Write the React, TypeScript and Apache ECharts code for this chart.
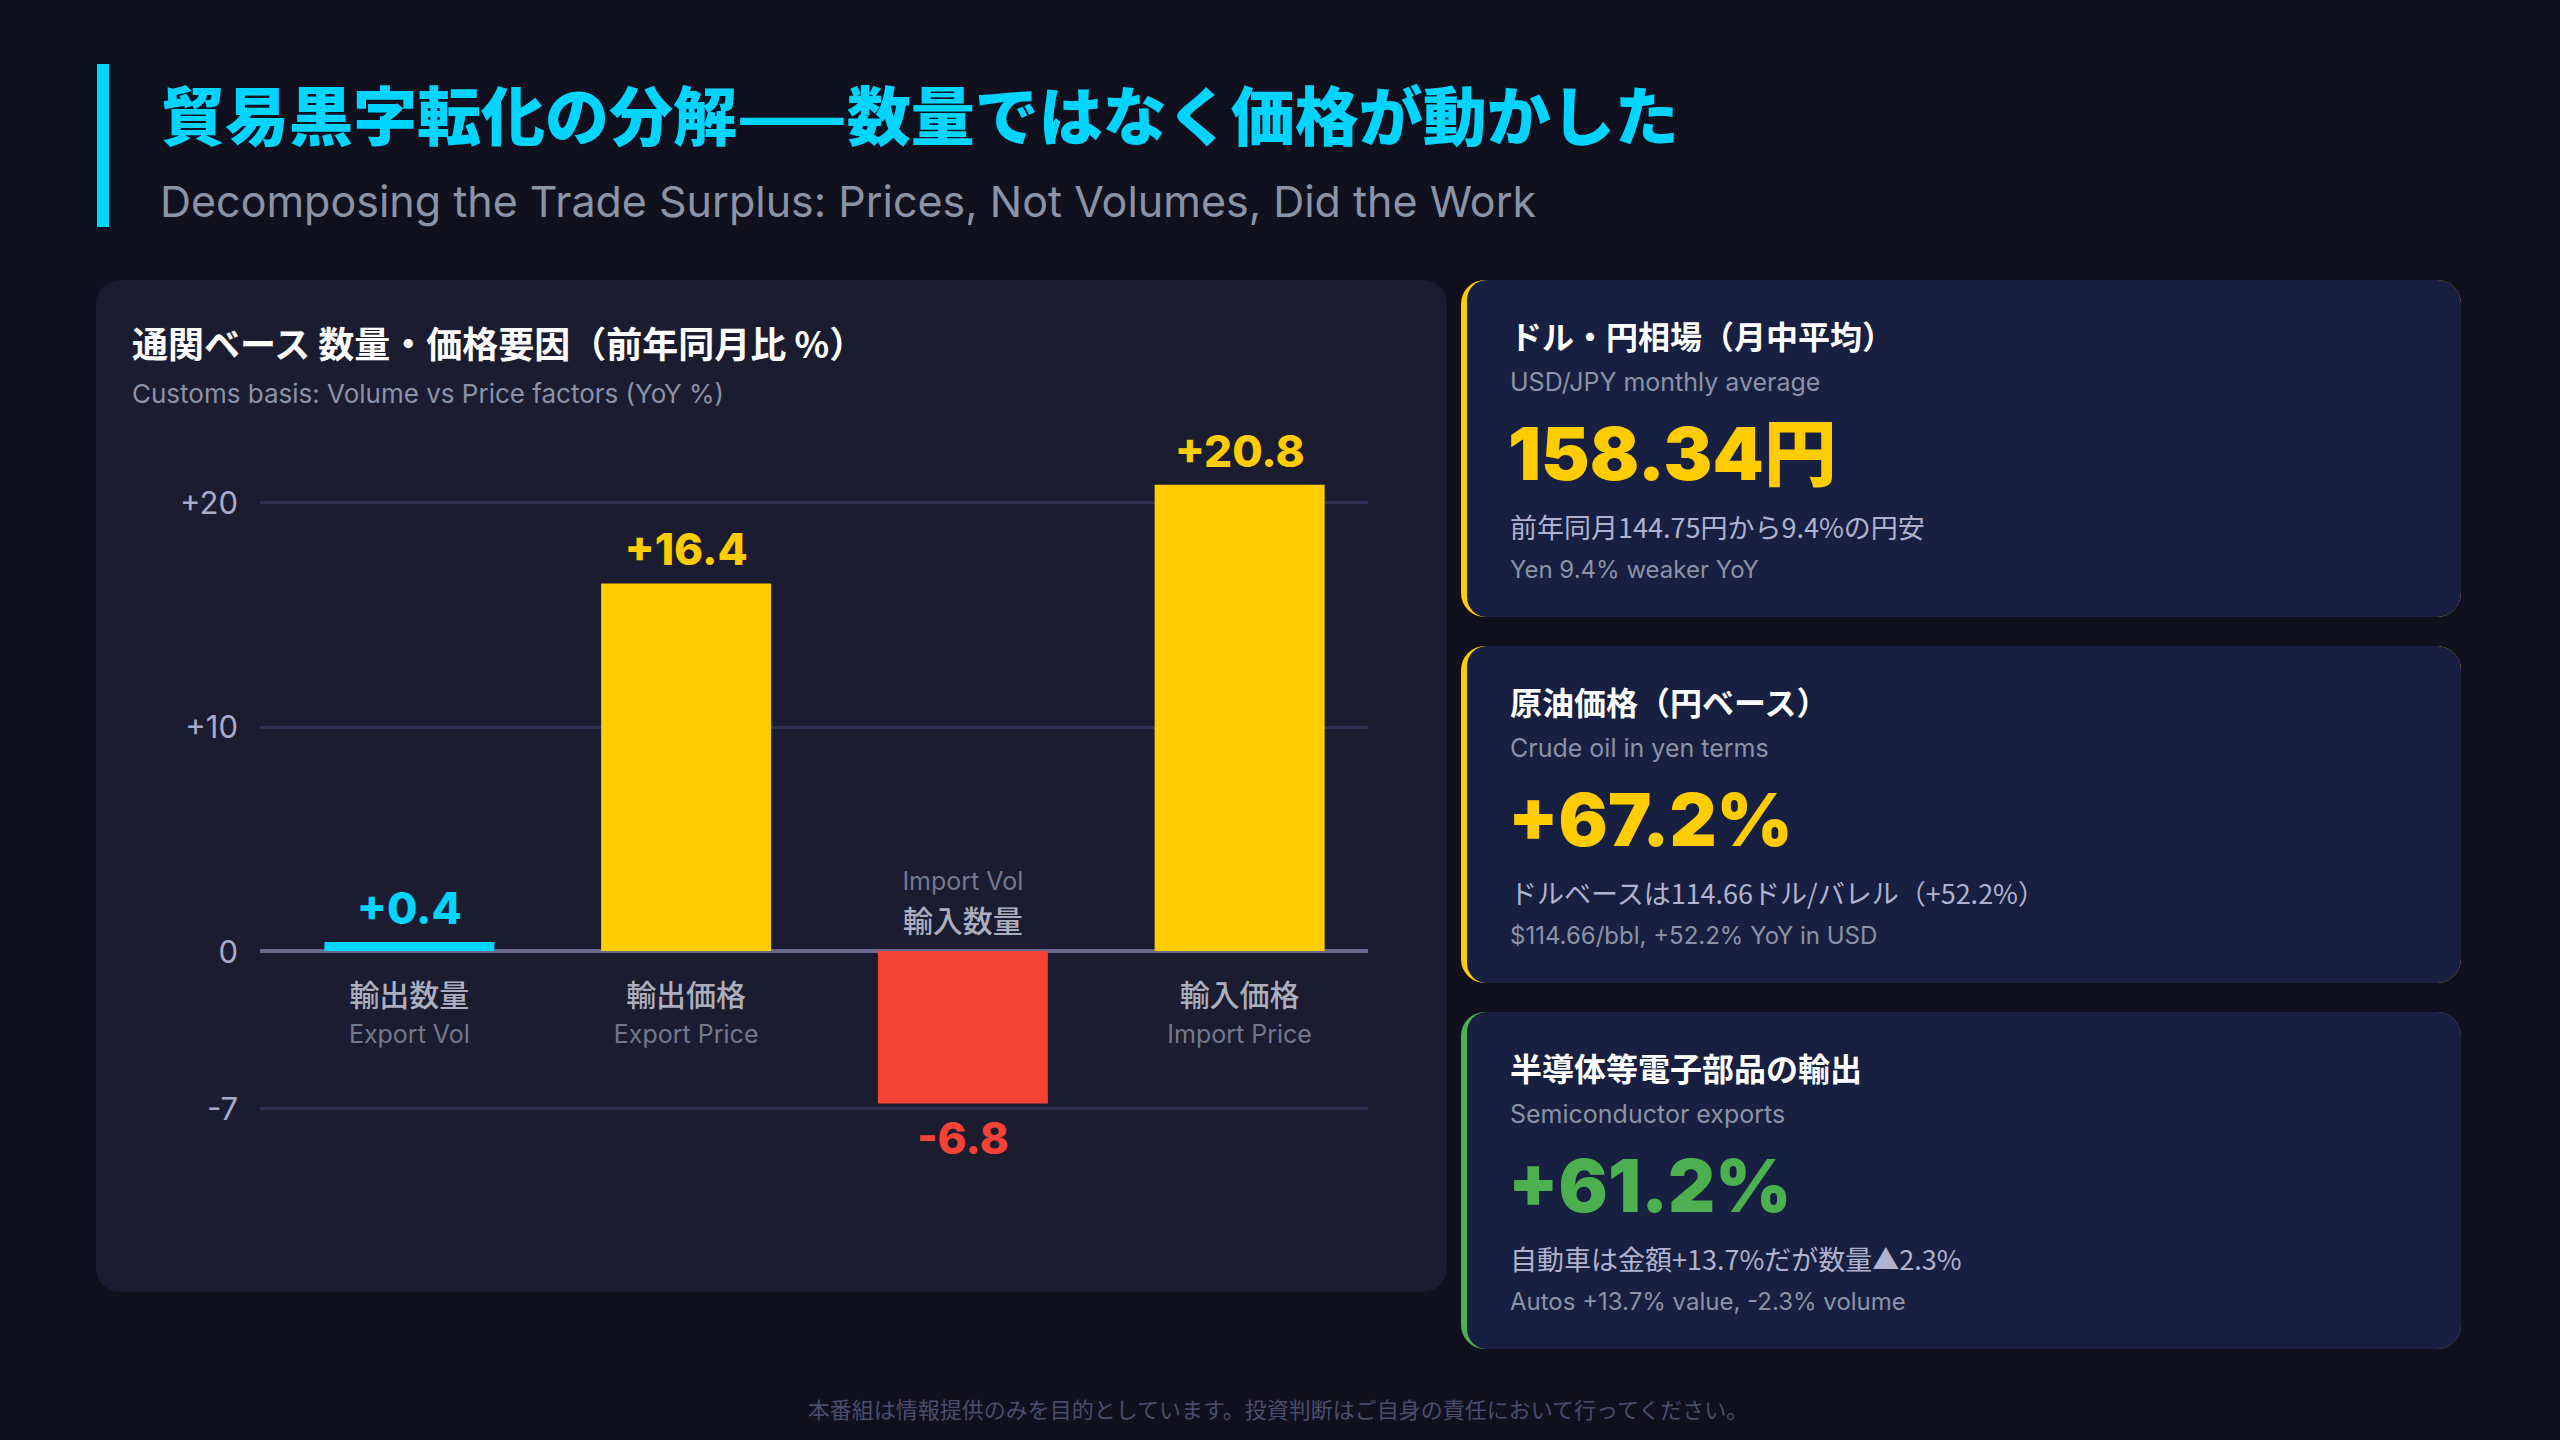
import React, { useEffect, useRef } from "react";
import * as echarts from "echarts";

// ---- data ----
const categoriesJa = ["輸出数量", "輸出価格", "輸入数量", "輸入価格"];
const categoriesEn = ["Export Vol", "Export Price", "Import Vol", "Import Price"];
const yoyValues = [0.4, 16.4, -6.8, 20.8];
const yTicks = [-7, 0, 10, 20];
const yTickLabels = ["-7", "0", "+10", "+20"];
const yMin = -7;
const yMax = 24;

const cardTitles = ["ドル・円相場（月中平均）", "原油価格（円ベース）", "半導体等電子部品の輸出"];
const cardSubs = ["USD/JPY monthly average", "Crude oil in yen terms", "Semiconductor exports"];
const cardValues = ["158.34円", "+67.2%", "+61.2%"];
const cardNotesJa = [
  "前年同月144.75円から9.4%の円安",
  "ドルベースは114.66ドル/バレル（+52.2%）",
  "自動車は金額+13.7%だが数量▲2.3%",
];
const cardNotesEn = [
  "Yen 9.4% weaker YoY",
  "$114.66/bbl, +52.2% YoY in USD",
  "Autos +13.7% value, -2.3% volume",
];

const titleJa = "貿易黒字転化の分解——数量ではなく価格が動かした";
const titleEn = "Decomposing the Trade Surplus: Prices, Not Volumes, Did the Work";
const panelTitle = "通関ベース 数量・価格要因（前年同月比 %）";
const panelSub = "Customs basis: Volume vs Price factors (YoY %)";
const footer = "本番組は情報提供のみを目的としています。投資判断はご自身の責任において行ってください。";

// ---- styles ----
const C = {
  bg: "#10101e",
  panel: "#1b1c2f",
  card: "#172040",
  cyan: "#00d4ff",
  yellow: "#ffcc00",
  red: "#f44336",
  green: "#4caf50",
  white: "#ffffff",
  muted: "#8b93a7",
  note: "#b0b3cf",
  axis: "#a9abc9",
  grid: "#2f3152",
  zero: "#67688a",
  catJa: "#d6d8e6",
  footer: "#4b4d6d",
};
const barColors = [C.cyan, C.yellow, C.red, C.yellow];
const cardAccents = [C.yellow, C.yellow, C.green];
const cardValueColors = [C.yellow, C.yellow, C.green];
const LATIN = "Inter, 'Noto Sans CJK JP', sans-serif";
const JP = "'Noto Sans CJK JP', Inter, sans-serif";

function text(x: number, y: number, t: string, fill: string, size: number, weight: any, family: string, align = "left") {
  return {
    type: "text",
    x,
    y,
    silent: true,
    style: { text: t, fill, fontSize: size, fontWeight: weight, fontFamily: family, align, verticalAlign: "middle" },
  };
}

function buildGraphics() {
  const els: any[] = [];
  // header
  els.push({ type: "rect", shape: { x: 97, y: 64, width: 12, height: 163 }, style: { fill: C.cyan } });
  els.push(text(161, 112, titleJa, C.cyan, 64, 900, JP));
  els.push(text(160, 201, titleEn, C.muted, 43, 400, LATIN));

  // chart panel
  els.push({ type: "rect", shape: { x: 96, y: 280, width: 1351, height: 1012, r: 24 }, style: { fill: C.panel } });
  els.push(text(132, 342, panelTitle, C.white, 36, 700, JP));
  els.push(text(132, 393, panelSub, C.muted, 26, 400, LATIN));

  // stat cards
  const cardX = 1461;
  const cardW = 1000;
  const cardH = 337;
  const cardTops = [280, 646, 1012];
  cardTops.forEach((top, i) => {
    els.push({ type: "rect", shape: { x: cardX, y: top, width: cardW, height: cardH, r: 24 }, style: { fill: cardAccents[i] } });
    els.push({
      type: "rect",
      shape: { x: cardX + 6, y: top, width: cardW - 6, height: cardH, r: [20, 24, 24, 20] },
      style: { fill: C.card },
    });
    const tx = cardX + 49;
    els.push(text(tx, top + 55, cardTitles[i], C.white, 32, 700, JP));
    els.push(text(tx, top + 102, cardSubs[i], C.muted, 25, 400, LATIN));
    els.push(text(tx - 2, top + 173, cardValues[i], cardValueColors[i], 73, 900, LATIN));
    els.push(text(tx, top + 246, cardNotesJa[i], C.note, 27, 400, JP));
    els.push(text(tx, top + 289, cardNotesEn[i], C.muted, 24, 400, LATIN));
  });

  // disclaimer
  els.push(text(1278, 1408, footer, C.footer, 22, 400, JP, "center"));
  return els;
}

const richCat = {
  jp: { fontSize: 30, lineHeight: 40, color: C.catJa, fontFamily: JP, fontWeight: 500, align: "center" },
  en: { fontSize: 25, lineHeight: 42, color: C.muted, fontFamily: LATIN, align: "center" },
  enTop: { fontSize: 25, lineHeight: 36, color: C.muted, fontFamily: LATIN, align: "center" },
};

function buildOption() {
  const gridTop = 413;
  const gridHeight = 695;
  const fmtSigned = (v: number) => (v > 0 ? "+" + v.toFixed(1) : v.toFixed(1));

  return {
    animation: false,
    backgroundColor: C.bg,
    graphic: buildGraphics(),
    grid: [
      // reference lines and value-axis labels
      { left: 260, top: gridTop, width: 1108, height: gridHeight },
      // bars
      { left: 271, top: gridTop, width: 1107, height: gridHeight },
    ],
    xAxis: [
      { gridIndex: 0, type: "value", min: 0, max: 1, show: false },
      {
        gridIndex: 1,
        type: "category",
        data: categoriesJa,
        axisLine: { show: false },
        axisTick: { show: false },
        axisLabel: { show: false },
      },
    ],
    yAxis: [
      {
        gridIndex: 0,
        type: "value",
        min: yMin,
        max: yMax,
        splitLine: { show: false },
        axisLine: { show: false },
        axisTick: { show: false },
        axisLabel: {
          customValues: yTicks,
          margin: 22,
          fontSize: 31,
          color: C.axis,
          fontFamily: LATIN,
          formatter: (v: number) => yTickLabels[yTicks.indexOf(v)] ?? String(v),
        },
      },
      { gridIndex: 1, type: "value", min: yMin, max: yMax, show: false },
    ],
    series: [
      {
        type: "line",
        xAxisIndex: 0,
        yAxisIndex: 0,
        data: [[0.5, 0]],
        showSymbol: false,
        silent: true,
        z: 1,
        lineStyle: { opacity: 0 },
        markLine: {
          z: 1,
          silent: true,
          symbol: ["none", "none"],
          label: { show: false },
          emphasis: { disabled: true },
          data: [
            ...yTicks
              .filter((v) => v !== 0)
              .map((v) => ({ yAxis: v, lineStyle: { color: C.grid, width: 3, type: "solid" } })),
            { yAxis: 0, lineStyle: { color: C.zero, width: 4, type: "solid" } },
          ],
        },
      },
      {
        type: "bar",
        xAxisIndex: 1,
        yAxisIndex: 1,
        barWidth: 170,
        z: 3,
        data: yoyValues.map((v, i) => ({
          value: v,
          itemStyle: { color: barColors[i] },
          label: { position: v < 0 ? "bottom" : "top", color: barColors[i] },
        })),
        label: {
          show: true,
          distance: 12,
          fontSize: 44,
          fontWeight: 800,
          fontFamily: LATIN,
          formatter: (p: any) => fmtSigned(p.value),
        },
      },
      {
        // category captions anchored on the zero line, on the side away from the bar
        type: "scatter",
        xAxisIndex: 1,
        yAxisIndex: 1,
        symbolSize: 0,
        silent: true,
        z: 4,
        data: yoyValues.map((v) => ({
          value: 0,
          label: v < 0 ? { position: "top", distance: 12 } : { position: "bottom", distance: 22 },
        })),
        label: {
          show: true,
          formatter: (p: any) => {
            const i = p.dataIndex;
            return yoyValues[i] < 0
              ? `{enTop|${categoriesEn[i]}}\n{jp|${categoriesJa[i]}}`
              : `{jp|${categoriesJa[i]}}\n{en|${categoriesEn[i]}}`;
          },
          rich: richCat,
        },
      },
    ],
  };
}

export default function App() {
  const ref = useRef<HTMLDivElement>(null);
  useEffect(() => {
    if (!ref.current) return;
    const chart = echarts.init(ref.current, null, { renderer: "svg" });
    chart.setOption(buildOption() as any);
    return () => chart.dispose();
  }, []);
  return (
    <div
      ref={ref}
      style={{ position: "fixed", left: 0, top: 0, width: 2560, height: 1440, background: C.bg }}
    />
  );
}
